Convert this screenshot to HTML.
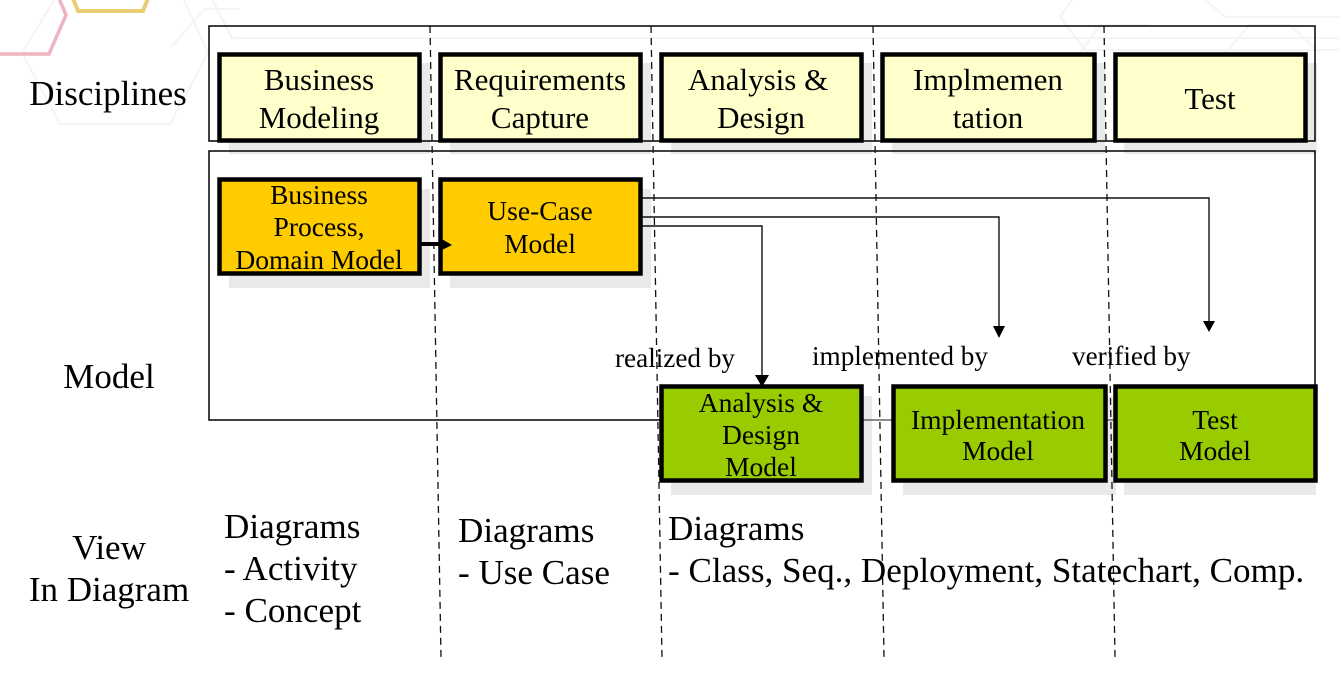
<!DOCTYPE html>
<html>
<head>
<meta charset="utf-8">
<style>
html,body{margin:0;padding:0;background:#fff;width:1339px;height:673px;overflow:hidden}
svg{display:block}
text{font-family:"Liberation Serif",serif;fill:#000;text-anchor:middle}
.t35{font-size:35px}
.t31{font-size:31px}
.t27{font-size:27.5px}
.l{text-anchor:start;font-size:35.1px}
.r{text-anchor:start;font-size:27.2px}
.s{fill:#e9e9e9}
.y{fill:#ffffcc;stroke:#000;stroke-width:4.5}
.o{fill:#ffcc00;stroke:#000;stroke-width:4.5}
.g{fill:#99cc00;stroke:#000;stroke-width:4.5}
.d{stroke:#111;stroke-width:1.3;stroke-dasharray:7 5;fill:none}
.c{fill:none;stroke:#111;stroke-width:1.4}
.h{fill:none;stroke:#f4f4f4;stroke-width:2}
</style>
</head>
<body>
<svg width="1339" height="673" viewBox="0 0 1339 673" xmlns="http://www.w3.org/2000/svg">
<rect width="1339" height="673" fill="#fff"/>

<!-- faint background hexagons -->
<path class="h" d="M22 53L60 -10M22 53L60 124H170L208 53L175 -20"/>
<path class="h" d="M210 -5L232 38H1339M172 46L205 9H240"/>
<path class="h" d="M1200 -5L1225 17H1339M1075 -5L1060 17L1085 50H1339M1225 53L1250 25H1290L1320 53"/>
<path class="h" d="M1080 53L1100 25H1150"/>
<path d="M-2 54H49L66 15L58 -4" fill="none" stroke="#eeb4bf" stroke-width="3.5"/>
<path d="M72 -4L78 11H143L149 -4" fill="none" stroke="#e9cd74" stroke-width="4"/>

<!-- shadows -->
<rect class="s" x="229" y="63" width="201" height="91"/>
<rect class="s" x="450" y="63" width="201" height="91"/>
<rect class="s" x="671" y="63" width="201" height="91"/>
<rect class="s" x="892" y="63" width="213" height="91"/>
<rect class="s" x="1124" y="63" width="193" height="91"/>
<rect class="s" x="229" y="189" width="201" height="99"/>
<rect class="s" x="450" y="189" width="201" height="99"/>
<rect class="s" x="671" y="396" width="201" height="99"/>
<rect class="s" x="903" y="396" width="213" height="99"/>
<rect class="s" x="1124" y="396" width="192" height="99"/>

<!-- outer frames -->
<rect x="209" y="26" width="1106" height="115" fill="none" stroke="#000" stroke-width="1.5"/>
<path d="M660 420H209V151H1315V387" fill="none" stroke="#000" stroke-width="1.5"/>
<path d="M862 420H893M1105 420H1115" stroke="#666" stroke-width="1.5"/>

<!-- dashed separators -->
<path class="d" d="M430 26L441 658"/>
<path class="d" d="M651 26L662 658"/>
<path class="d" d="M873 26L884 658"/>
<path class="d" d="M1104 26L1115 658"/>

<!-- discipline boxes -->
<rect class="y" x="219.500" y="54.500" width="200" height="86"/>
<rect class="y" x="440.500" y="54.500" width="200" height="86"/>
<rect class="y" x="661.500" y="54.500" width="200" height="86"/>
<rect class="y" x="882.500" y="54.500" width="212" height="86"/>
<rect class="y" x="1115.500" y="54.500" width="190" height="86"/>

<!-- model boxes -->
<rect class="o" x="219.500" y="179.500" width="200" height="94"/>
<rect class="o" x="440.500" y="179.500" width="200" height="94"/>
<rect class="g" x="661.500" y="386.500" width="200" height="94"/>
<rect class="g" x="893.500" y="386.500" width="212" height="94"/>
<rect class="g" x="1115.500" y="386.500" width="200" height="94"/>

<!-- connectors -->
<path d="M421 244H440" stroke="#000" stroke-width="4"/>
<path d="M440 238L452 245L440 251Z" fill="#000"/>
<path class="c" d="M642 226H762V376" stroke-width="1.8"/>
<path d="M755 375H769L762 387Z" fill="#000"/>
<path class="c" d="M642 217H999V326"/>
<path d="M993 326H1005L999 338Z" fill="#000"/>
<path class="c" d="M642 198H1209V321"/>
<path d="M1203 321H1215L1209 332Z" fill="#000"/>

<!-- left labels -->
<text class="t35" x="108" y="105">Disciplines</text>
<text class="t35" x="109" y="388">Model</text>
<text class="t35" x="109" y="559">View</text>
<text class="t35" x="109" y="601">In Diagram</text>

<!-- discipline labels -->
<text class="t31" x="319" y="90">Business</text>
<text class="t31" x="319" y="128">Modeling</text>
<text class="t31" x="540" y="90">Requirements</text>
<text class="t31" x="540" y="128">Capture</text>
<text class="t31" x="758" y="90">Analysis &amp;</text>
<text class="t31" x="761" y="128">Design</text>
<text class="t31" x="988" y="90">Implmemen</text>
<text class="t31" x="988" y="128">tation</text>
<text class="t31" x="1210" y="109">Test</text>

<!-- model labels -->
<text class="t27" x="319" y="204">Business</text>
<text class="t27" x="319" y="236">Process,</text>
<text class="t27" x="319" y="269">Domain Model</text>
<text class="t27" x="540" y="220">Use-Case</text>
<text class="t27" x="540" y="253">Model</text>
<text class="t27" x="761" y="412">Analysis &amp;</text>
<text class="t27" x="761" y="444">Design</text>
<text class="t27" x="761" y="476">Model</text>
<text class="t27" x="998" y="429">Implementation</text>
<text class="t27" x="998" y="460">Model</text>
<text class="t27" x="1215" y="429">Test</text>
<text class="t27" x="1215" y="460">Model</text>

<!-- relation labels -->
<text class="r" x="615" y="367">realized by</text>
<text class="r" x="812" y="365">implemented by</text>
<text class="r" x="1072" y="365">verified by</text>

<!-- view lists -->
<text class="l" x="224" y="538">Diagrams</text>
<text class="l" x="224" y="580">- Activity</text>
<text class="l" x="224" y="622">- Concept</text>
<text class="l" x="458" y="542">Diagrams</text>
<text class="l" x="458" y="584">- Use Case</text>
<text class="l" x="668" y="540">Diagrams</text>
<text class="l" x="668" y="582">- Class, Seq., Deployment, Statechart, Comp.</text>
</svg>
</body>
</html>
